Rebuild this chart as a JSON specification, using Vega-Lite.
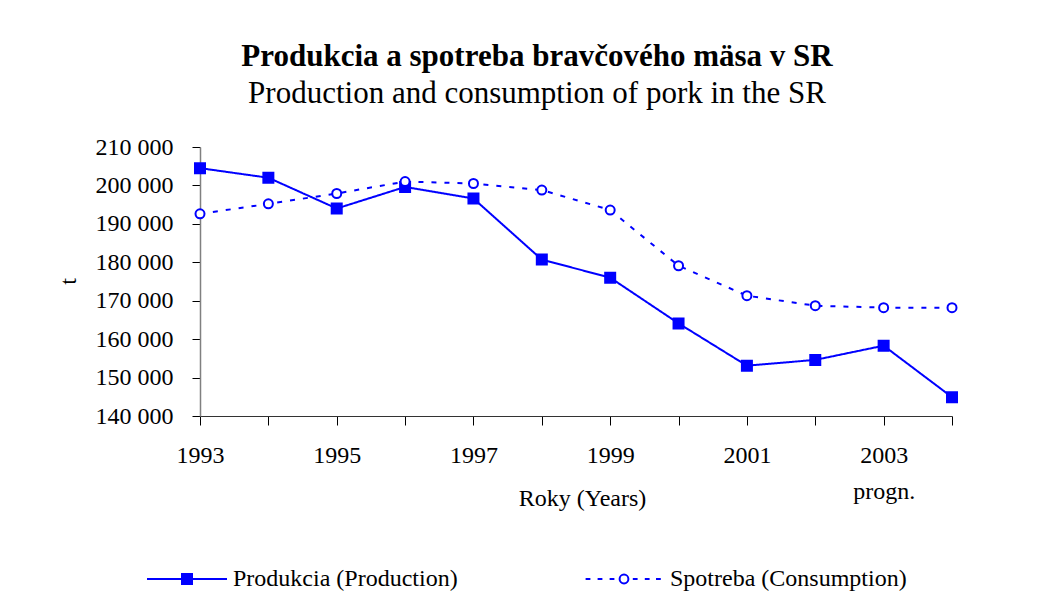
{
  "$schema": "https://vega.github.io/schema/vega-lite/v6.json",
  "width": 752,
  "height": 269,
  "autosize": "none",
  "padding": {"left": 200, "top": 147, "right": 96, "bottom": 199},
  "background": "white",
  "config": {
    "font": "Liberation Serif",
    "view": {"stroke": null},
    "axis": {"grid": false}
  },
  "title": {
    "text": "Produkcia a spotreba bravčového mäsa v SR",
    "subtitle": "Production and consumption of pork in the SR",
    "font": "Liberation Serif",
    "fontSize": 31,
    "fontWeight": "bold",
    "color": "black",
    "subtitleFont": "Liberation Serif",
    "subtitleFontSize": 31,
    "subtitleColor": "black",
    "subtitlePadding": 6,
    "anchor": "middle",
    "frame": "group",
    "dx": -39,
    "offset": 25
  },
  "data": {
    "values": [
      {"year": 1993, "series": "Produkcia (Production)", "value": 204500},
      {"year": 1994, "series": "Produkcia (Production)", "value": 202000},
      {"year": 1995, "series": "Produkcia (Production)", "value": 194000},
      {"year": 1996, "series": "Produkcia (Production)", "value": 199600},
      {"year": 1997, "series": "Produkcia (Production)", "value": 196600},
      {"year": 1998, "series": "Produkcia (Production)", "value": 180700},
      {"year": 1999, "series": "Produkcia (Production)", "value": 176000},
      {"year": 2000, "series": "Produkcia (Production)", "value": 164100},
      {"year": 2001, "series": "Produkcia (Production)", "value": 153100},
      {"year": 2002, "series": "Produkcia (Production)", "value": 154600},
      {"year": 2003, "series": "Produkcia (Production)", "value": 158300},
      {"year": 2004, "series": "Produkcia (Production)", "value": 144900},
      {"year": 1993, "series": "Spotreba (Consumption)", "value": 192600},
      {"year": 1994, "series": "Spotreba (Consumption)", "value": 195200},
      {"year": 1995, "series": "Spotreba (Consumption)", "value": 197900},
      {"year": 1996, "series": "Spotreba (Consumption)", "value": 201000},
      {"year": 1997, "series": "Spotreba (Consumption)", "value": 200500},
      {"year": 1998, "series": "Spotreba (Consumption)", "value": 198800},
      {"year": 1999, "series": "Spotreba (Consumption)", "value": 193600},
      {"year": 2000, "series": "Spotreba (Consumption)", "value": 179100},
      {"year": 2001, "series": "Spotreba (Consumption)", "value": 171300},
      {"year": 2002, "series": "Spotreba (Consumption)", "value": 168700},
      {"year": 2003, "series": "Spotreba (Consumption)", "value": 168200},
      {"year": 2004, "series": "Spotreba (Consumption)", "value": 168200}
    ]
  },
  "encoding": {
    "x": {
      "field": "year",
      "type": "quantitative",
      "scale": {"domain": [1993, 2004], "nice": false, "zero": false},
      "axis": {
        "title": "Roky (Years)",
        "titleFont": "Liberation Serif",
        "titleFontSize": 24,
        "titleFontWeight": "normal",
        "titleColor": "black",
        "titleX": 382,
        "titleY": 82,
        "titleBaseline": "middle",
        "titleAlign": "center",
        "values": [1993, 1994, 1995, 1996, 1997, 1998, 1999, 2000, 2001, 2002, 2003, 2004],
        "labelExpr": "datum.value % 2 == 1 ? (datum.value == 2003 ? ['2003', 'progn.'] : toString(datum.value)) : ''",
        "labelFont": "Liberation Serif",
        "labelFontSize": 24,
        "labelColor": "black",
        "labelLineHeight": 36,
        "labelPadding": 18,
        "labelFlush": false,
        "labelOverlap": false,
        "tickSize": 9,
        "tickColor": "black",
        "tickWidth": 1,
        "domainColor": "#333333",
        "domainWidth": 1
      }
    },
    "y": {
      "field": "value",
      "type": "quantitative",
      "scale": {"domain": [140000, 210000], "nice": false, "zero": false},
      "axis": {
        "title": "t",
        "titleFont": "Liberation Serif",
        "titleFontSize": 24,
        "titleFontWeight": "normal",
        "titleColor": "black",
        "titleX": -132,
        "titleY": 134,
        "titleBaseline": "middle",
        "titleAlign": "center",
        "titleAngle": -90,
        "values": [140000, 150000, 160000, 170000, 180000, 190000, 200000, 210000],
        "labelExpr": "replace(format(datum.value, ','), ',', ' ')",
        "labelFont": "Liberation Serif",
        "labelFontSize": 24,
        "labelColor": "black",
        "labelPadding": 19,
        "labelFlush": false,
        "labelOverlap": false,
        "tickSize": 8,
        "tickColor": "black",
        "tickWidth": 1,
        "domainColor": "#808080",
        "domainWidth": 1.5
      }
    }
  },
  "layer": [
    {
      "mark": {"type": "line", "color": "#0000FF", "strokeWidth": 2},
      "encoding": {
        "detail": {"field": "series", "type": "nominal"},
        "strokeDash": {
          "condition": {"test": "datum.series === 'Spotreba (Consumption)'", "value": [5, 8]},
          "value": [1, 0]
        }
      }
    },
    {
      "mark": {"type": "point", "filled": true, "opacity": 0, "size": 6400, "strokeWidth": 2},
      "encoding": {
        "shape": {
          "field": "series",
          "type": "nominal",
          "scale": {
            "domain": ["Produkcia (Production)", "Spotreba (Consumption)"],
            "range": [
              "M-1,0H1M-0.125,-0.125H0.125V0.125H-0.125Z",
              "M-0.96,0H-0.84M-0.66,0H-0.54M-0.36,0H-0.24M-0.11,0A0.11,0.11,0,1,0,0.11,0A0.11,0.11,0,1,0,-0.11,0M0.22,0H0.34M0.52,0H0.64M0.8,0H0.92"
            ]
          },
          "legend": {
            "title": null,
            "orient": "none",
            "legendX": -54,
            "legendY": 391,
            "direction": "horizontal",
            "columns": 2,
            "padding": 0,
            "symbolSize": 6400,
            "symbolStrokeWidth": 2,
            "symbolOpacity": 1,
            "labelFont": "Liberation Serif",
            "labelFontSize": 24,
            "labelColor": "black",
            "labelOffset": 5,
            "labelLimit": 500,
            "columnPadding": 123
          }
        },
        "fill": {
          "field": "series",
          "type": "nominal",
          "scale": {"domain": ["Produkcia (Production)", "Spotreba (Consumption)"], "range": ["#0000FF", "#FFFFFF"]},
          "legend": {
            "title": null,
            "orient": "none",
            "legendX": -54,
            "legendY": 391,
            "direction": "horizontal",
            "columns": 2,
            "padding": 0,
            "symbolSize": 6400,
            "symbolStrokeWidth": 2,
            "symbolOpacity": 1,
            "labelFont": "Liberation Serif",
            "labelFontSize": 24,
            "labelColor": "black",
            "labelOffset": 5,
            "labelLimit": 500,
            "columnPadding": 123
          }
        },
        "stroke": {
          "field": "series",
          "type": "nominal",
          "scale": {"domain": ["Produkcia (Production)", "Spotreba (Consumption)"], "range": ["#0000FF", "#0000FF"]},
          "legend": {
            "title": null,
            "orient": "none",
            "legendX": -54,
            "legendY": 391,
            "direction": "horizontal",
            "columns": 2,
            "padding": 0,
            "symbolSize": 6400,
            "symbolStrokeWidth": 2,
            "symbolOpacity": 1,
            "labelFont": "Liberation Serif",
            "labelFontSize": 24,
            "labelColor": "black",
            "labelOffset": 5,
            "labelLimit": 500,
            "columnPadding": 123
          }
        }
      }
    },
    {
      "mark": {"type": "point", "filled": true, "opacity": 1, "strokeWidth": 2, "stroke": "#0000FF"},
      "encoding": {
        "shape": {
          "condition": {"test": "datum.series === 'Produkcia (Production)'", "value": "square"},
          "value": "circle"
        },
        "fill": {
          "condition": {"test": "datum.series === 'Produkcia (Production)'", "value": "#0000FF"},
          "value": "#FFFFFF"
        },
        "size": {
          "condition": {"test": "datum.series === 'Produkcia (Production)'", "value": 100},
          "value": 81
        }
      }
    }
  ]
}
